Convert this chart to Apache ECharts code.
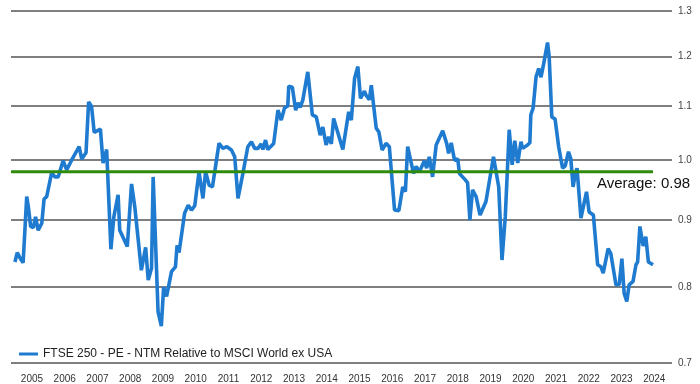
<!DOCTYPE html>
<html>
<head>
<meta charset="utf-8">
<script src="https://cdn.jsdelivr.net/npm/echarts@6/dist/echarts.min.js"></script>
<style>html,body{margin:0;padding:0;background:#fff}#c{width:700px;height:384px}</style>
</head>
<body>
<div id="c"></div>
<script>
const seriesName = 'FTSE 250 - PE - NTM Relative to MSCI World ex USA';
const dates = [2004.48,2004.55,2004.66,2004.73,2004.84,2004.89,2004.96,2005.04,2005.11,2005.19,2005.30,2005.37,2005.45,2005.60,2005.70,2005.80,2005.95,2006.06,2006.21,2006.44,2006.52,2006.65,2006.73,2006.82,2006.90,2007.09,2007.17,2007.28,2007.41,2007.50,2007.63,2007.68,2007.91,2008.04,2008.14,2008.34,2008.47,2008.55,2008.65,2008.70,2008.85,2008.95,2009.02,2009.11,2009.26,2009.38,2009.43,2009.49,2009.66,2009.77,2009.87,2009.97,2010.10,2010.22,2010.30,2010.41,2010.51,2010.71,2010.83,2010.95,2011.09,2011.19,2011.29,2011.44,2011.59,2011.70,2011.80,2011.90,2012.00,2012.05,2012.13,2012.20,2012.38,2012.51,2012.61,2012.71,2012.81,2012.84,2012.95,2013.05,2013.12,2013.19,2013.27,2013.42,2013.56,2013.68,2013.80,2013.88,2013.98,2014.06,2014.14,2014.21,2014.49,2014.67,2014.75,2014.85,2014.95,2015.03,2015.15,2015.20,2015.30,2015.36,2015.51,2015.59,2015.69,2015.81,2015.91,2016.07,2016.20,2016.32,2016.40,2016.47,2016.58,2016.65,2016.73,2016.83,2016.98,2017.05,2017.13,2017.23,2017.34,2017.54,2017.66,2017.72,2017.80,2017.90,2018.00,2018.05,2018.23,2018.30,2018.37,2018.45,2018.56,2018.68,2018.86,2019.09,2019.25,2019.35,2019.45,2019.57,2019.66,2019.74,2019.83,2019.93,2019.98,2020.13,2020.20,2020.23,2020.30,2020.39,2020.47,2020.54,2020.62,2020.74,2020.79,2020.87,2020.97,2021.08,2021.20,2021.28,2021.38,2021.45,2021.52,2021.59,2021.64,2021.76,2021.81,2021.93,2022.01,2022.14,2022.27,2022.37,2022.44,2022.59,2022.67,2022.83,2022.93,2023.01,2023.08,2023.16,2023.23,2023.35,2023.44,2023.49,2023.56,2023.66,2023.74,2023.82,2023.96];
const values = [0.836,0.850,0.840,0.835,0.938,0.921,0.890,0.888,0.905,0.884,0.895,0.934,0.938,0.978,0.971,0.971,0.999,0.983,1.000,1.024,1.002,1.013,1.108,1.099,1.050,1.056,0.995,1.019,0.855,0.905,0.941,0.884,0.859,0.959,0.921,0.824,0.858,0.810,0.827,0.971,0.766,0.747,0.800,0.787,0.822,0.829,0.861,0.850,0.911,0.924,0.916,0.923,0.980,0.935,0.980,0.957,0.954,1.030,1.021,1.024,1.018,1.006,0.935,0.977,1.024,1.033,1.021,1.021,1.029,1.019,1.036,1.019,1.030,1.092,1.073,1.096,1.100,1.139,1.137,1.092,1.106,1.097,1.112,1.168,1.083,1.079,1.045,1.060,1.027,1.042,1.029,1.076,1.019,1.089,1.073,1.155,1.179,1.115,1.129,1.121,1.112,1.141,1.058,1.051,1.018,1.030,1.024,0.916,0.915,0.954,0.946,1.024,0.995,0.977,0.989,0.980,0.999,0.986,1.006,0.971,1.027,1.053,1.030,1.012,1.031,1.000,1.002,0.977,0.966,0.961,0.900,0.949,0.938,0.908,0.930,1.006,0.954,0.839,0.905,1.055,0.992,1.035,0.995,1.033,1.021,1.027,1.031,1.083,1.096,1.158,1.175,1.157,1.184,1.230,1.200,1.079,1.075,1.024,0.986,0.990,1.015,1.003,0.954,0.977,0.986,0.903,0.900,0.946,0.913,0.908,0.832,0.829,0.820,0.856,0.849,0.803,0.804,0.841,0.791,0.780,0.803,0.808,0.832,0.836,0.890,0.860,0.874,0.836,0.832];
const yearTicks = [2005,2006,2007,2008,2009,2010,2011,2012,2013,2014,2015,2016,2017,2018,2019,2020,2021,2022,2023,2024];
const yTicks = [0.7,0.8,0.9,1.0,1.1,1.2,1.3];
const averageValue = 0.98;
const averageLabel = 'Average: 0.98';
const xMin = 2004.36, xMax = 2024.54;

const chart = echarts.init(document.getElementById('c'), null, {renderer: 'canvas'});
const mainData = dates.map((d, i) => [d, values[i]]);
const avgData = [[xMin, averageValue], [dates[dates.length - 1], averageValue]];
chart.setOption({
  animation: false,
  backgroundColor: '#ffffff',
  textStyle: {fontFamily: 'Liberation Sans, Arial, sans-serif'},
  grid: {left: 11, right: 28, top: 11, bottom: 21, containLabel: false},
  legend: {
    data: [seriesName],
    left: 14, top: 343,
    icon: 'rect', itemWidth: 19, itemHeight: 3, itemGap: 4,
    textStyle: {fontSize: 12, color: '#222', fontFamily: 'Liberation Sans, Arial, sans-serif'}
  },
  xAxis: {
    type: 'value', min: xMin, max: xMax,
    axisLine: {show: false}, axisTick: {show: false}, splitLine: {show: false},
    axisLabel: {customValues: yearTicks, fontSize: 10, color: '#333', margin: 11, formatter: v => String(Math.round(v))}
  },
  yAxis: {
    type: 'log', logBase: 10, min: 0.7, max: 1.3, position: 'right',
    axisLine: {show: false},
    axisTick: {show: false, customValues: yTicks},
    axisLabel: {customValues: yTicks, fontSize: 10, color: '#444', margin: 6, formatter: v => Number(v).toFixed(1)},
    splitLine: {show: true, lineStyle: {color: '#7f7f7f', width: 2}}
  },
  series: [
    {
      name: seriesName, type: 'line', data: mainData, showSymbol: false, symbol: 'none',
      lineStyle: {color: '#1f7bcf', width: 3.6}, itemStyle: {color: '#1f7bcf'}, z: 3
    },
    {
      name: 'Average', type: 'line', data: avgData, showSymbol: false, symbol: 'none',
      lineStyle: {color: '#2e8b0b', width: 3}, itemStyle: {color: '#2e8b0b'}, z: 4,
      label: {show: false},
      endLabel: {show: true, formatter: averageLabel, fontSize: 15, color: '#111', offset: [-56, 12], distance: 0}
    }
  ]
});
</script>
</body>
</html>
